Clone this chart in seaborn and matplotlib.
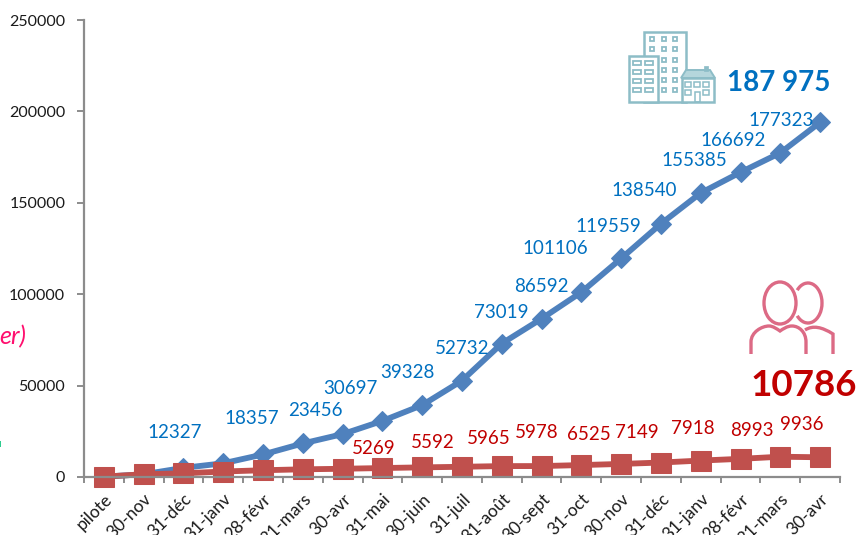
import numpy as np
import pandas as pd
import matplotlib
matplotlib.use("Agg")
import matplotlib.pyplot as plt
import seaborn as sns
from matplotlib.patches import Ellipse, Arc, Rectangle, Polygon, PathPatch
from matplotlib.path import Path

# =======================
# Data
# =======================
months = ["pilote", "30-nov", "31-déc", "31-janv", "28-févr", "31-mars", "30-avr", "31-mai", "30-juin",
          "31-juil", "31-août", "30-sept", "31-oct", "30-nov", "31-déc", "31-janv", "28-févr", "31-mars", "30-avr"]
buildings = [200, 1500, 5000, 7500, 12327, 18357, 23456, 30697, 39328, 52732, 73019, 86592,
             101106, 119559, 138540, 155385, 166692, 177323, 194000]
people = [200, 1500, 2000, 3000, 3700, 4200, 4500, 4900, 5269, 5592, 5965, 5978,
          6525, 7149, 7918, 8993, 9936, 11100, 10786]
blue_labels = ["12327", "18357", "23456", "30697", "39328", "52732", "73019", "86592", "101106",
               "119559", "138540", "155385", "166692", "177323"]
red_labels = ["5269", "5592", "5965", "5978", "6525", "7149", "7918", "8993", "9936"]
y_ticks = [0, 50000, 100000, 150000, 200000, 250000]

# label centres on the image, in pixels
blue_xy = [(175, 433), (252, 419), (315, 410), (350, 389), (407, 373), (462, 348), (501, 312), (541, 286),
           (555, 249), (608, 227), (644, 191), (694, 161), (733, 140), (781, 121)]
red_xy = [(374, 449), (433, 443), (489, 439), (537, 432), (589, 434), (637, 433), (693, 428), (752, 431), (802, 425)]

# =======================
# Figure
# =======================
sns.set_theme(style="white")
plt.rcParams["font.family"] = ["Lato", "DejaVu Sans"]

W, H = 856, 535
fig = plt.figure(figsize=(W / 100, H / 100), dpi=100)
ax = fig.add_axes([84 / W, 1 - 477 / H, (840 - 84) / W, (477 - 20) / H])

df = pd.DataFrame({"pos": np.arange(len(months)), "buildings": buildings, "people": people})
sns.lineplot(data=df, x="pos", y="buildings", ax=ax, color="#4F81BD", lw=4.2, marker="D", ms=10.5,
             mec="#4F81BD", errorbar=None, clip_on=False)
sns.lineplot(data=df, x="pos", y="people", ax=ax, color="#C0504D", lw=4.2, marker="s", ms=14,
             mec="#C0504D", errorbar=None, clip_on=False)

ax.set_xlim(-0.5, len(months) - 0.5)
ax.set_ylim(0, 250000)
ax.set_xlabel("")
ax.set_ylabel("")
ax.set_yticks(y_ticks)
ax.set_yticklabels([str(v) for v in y_ticks], fontsize=11.5, color="#1a1a1a")
ax.set_xticks(np.arange(len(months)))
ax.set_xticklabels(months, rotation=45, ha="right", rotation_mode="anchor", fontsize=12.5, color="#1a1a1a")
ax.set_xticks(np.arange(len(months) + 1) - 0.5, minor=True)
ax.tick_params(axis="x", which="major", length=0, pad=10)
ax.tick_params(axis="x", which="minor", bottom=True, length=4, width=1.4, color="#8c8c8c")
ax.tick_params(axis="y", left=True, length=5, width=1.4, color="#8c8c8c", pad=8.5)
sns.despine(ax=ax)
for s in ["left", "bottom"]:
    ax.spines[s].set_color("#8c8c8c")
    ax.spines[s].set_linewidth(1.6)

# =======================
# Overlay in pixel coordinates
# =======================
ov = fig.add_axes([0, 0, 1, 1], facecolor="none")
ov.set_xlim(0, W)
ov.set_ylim(H, 0)
ov.axis("off")

for txt, (x, y) in zip(blue_labels, blue_xy):
    ov.text(x, y, txt, color="#0070C0", fontsize=13.5, ha="center", va="center")
for txt, (x, y) in zip(red_labels, red_xy):
    ov.text(x, y, txt, color="#C00000", fontsize=13.5, ha="center", va="center")

ov.text(779, 83, "187 975", color="#0070C0", fontsize=20, fontweight="bold", ha="center", va="center")
ov.text(804, 386, "10786", color="#C00000", fontsize=26.5, fontweight="bold", ha="center", va="center")
ov.text(-1, 337, "er)", color="#FF0F6E", fontsize=18, style="italic", ha="left", va="center")
ov.add_patch(Rectangle((0, 441), 1.5, 6, color="#2ECC8F", lw=0))

# building icon
teal = "#8DBDC7"
ov.add_patch(Rectangle((644, 32), 42, 70, fill=False, ec=teal, lw=1.8))
ov.add_patch(Rectangle((629, 56), 29, 46, fc="white", ec=teal, lw=1.8, zorder=3))
for x in [652, 664, 675]:
    for y in [39, 49, 60, 70, 80, 90]:
        if x == 652 and y > 49:
            continue
        ov.add_patch(Rectangle((x - 2, y - 2), 4, 4, fill=False, ec=teal, lw=1.3))
for x in [633, 645]:
    for y in [63, 72, 81, 90]:
        ov.add_patch(Rectangle((x, y - 2), 8, 4, fill=False, ec=teal, lw=1.3, zorder=4))
ov.add_patch(Rectangle((682, 78), 32, 24, fc="white", ec=teal, lw=1.8, zorder=3))
ov.add_patch(Polygon([(681, 78), (686, 70), (710, 70), (715, 78)], fc="#B5D6DC", ec=teal, lw=1.4, zorder=4))
ov.add_patch(Rectangle((704, 66), 4, 5, fc=teal, ec=teal, lw=0.5, zorder=4))
for x in [685, 694, 703]:
    for y in [82, 90]:
        if x == 694 and y == 90:
            continue
        ov.add_patch(Rectangle((x, y), 6, 5, fill=False, ec=teal, lw=1.1, zorder=4))
ov.add_patch(Rectangle((695, 92), 5, 10, fill=False, ec=teal, lw=1.1, zorder=4))

# people icon
rose = "#DC6A85"
ov.add_patch(Ellipse((780, 303), 32, 42, fill=False, ec=rose, lw=2.4))
ov.add_patch(Arc((808, 303), 28, 40, theta1=-130, theta2=130, ec=rose, lw=2.4))
front = Path([(751, 354), (751, 342), (751, 332), (762, 326), (769, 326), (773, 326), (777, 329), (780, 331),
              (783, 329), (787, 326), (792, 326), (799, 326), (806, 332), (806, 342), (806, 354)],
             [Path.MOVETO, Path.LINETO] + [Path.CURVE4] * 12 + [Path.LINETO])
ov.add_patch(PathPatch(front, fill=False, ec=rose, lw=2.4))
back = Path([(805, 330), (813, 325), (822, 327), (833, 334), (833, 354)],
            [Path.MOVETO, Path.CURVE4, Path.CURVE4, Path.CURVE4, Path.LINETO])
ov.add_patch(PathPatch(back, fill=False, ec=rose, lw=2.4))

fig.savefig("out.png", dpi=100)
